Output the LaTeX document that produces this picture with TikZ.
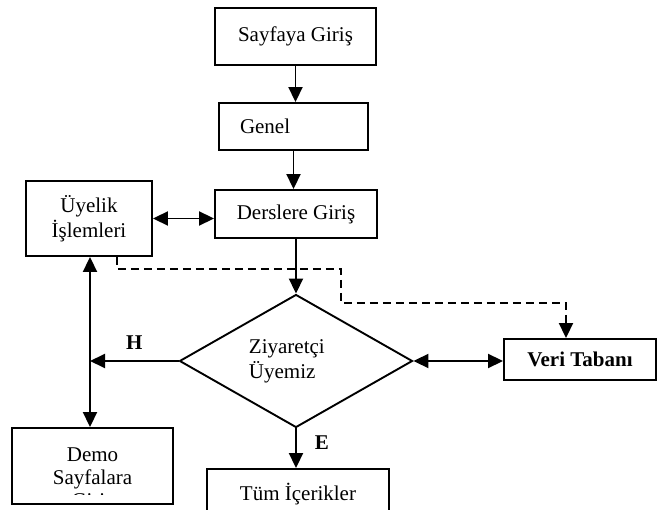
\documentclass[tikz,border=0pt]{standalone}
\usepackage{fontspec}
\setmainfont{Liberation Serif}
\usetikzlibrary{shapes.geometric,arrows.meta}

\begin{document}
\begin{tikzpicture}[x=1pt,y=-1pt,line join=miter,line width=1.9pt,>={Triangle[length=15pt,width=14pt]}]
				\tikzset{every node/.style={font=\fontsize{21}{25}\selectfont,inner sep=0pt},
					kutu/.style={draw,rectangle,align=center},
					karar/.style={draw,diamond,minimum width=233pt,minimum height=133pt},
					harf/.style={font=\fontsize{21}{25}\selectfont\bfseries}}
				\clip (0,0) rectangle (657,510);
				% kutular
				\node[kutu,minimum width=161pt,minimum height=57pt] (giris) at (295.5,36.5) {Sayfaya Giriş};
				\node[kutu,minimum width=149pt,minimum height=47pt,text width=107pt,inner xsep=21pt,align=left] (genel) at (293.5,126.5) {Genel};
				\node[kutu,minimum width=162pt,minimum height=48pt] (ders) at (296,214) {Derslere Giriş};
				\node[kutu,minimum width=126pt,minimum height=75pt] (uye) at (89,218.5) {Üyelik\\İşlemleri};
				\node[karar] (soru) at (296,361) {};
				\node[kutu,minimum width=152pt,minimum height=41pt,font=\fontsize{21}{25}\selectfont\bfseries] (veri) at (580,359.5) {Veri Tabanı};
				\node[kutu,minimum width=161pt,minimum height=76pt] (demo) at (92.5,466) {};
				\node[kutu,minimum width=182pt,minimum height=50pt] (tum) at (298,494) {Tüm İçerikler};
				% taşan yazılar
				\begin{scope}
					\clip (180,330) rectangle (413,389);
					\node[align=left,anchor=north west] (soruyazi) at (248,338.7) {Ziyaretçi\\Üyemiz\\mi?};
				\end{scope}
				\begin{scope}
					\clip (12,430) rectangle (173,495);
					\node[align=center,anchor=north,font=\fontsize{21}{23}\selectfont] (demoyazi) at (92.5,447) {Demo\\Sayfalara\\Giriş};
				\end{scope}
				% oklar
				\coordinate (hkose) at (90,361);
				\coordinate (d1) at (341,269);
				\coordinate (d2) at (566,303);
				\draw[->] (giris.south) -- (giris.south |- genel.north);
				\draw[->] (genel.south) -- (genel.south |- ders.north);
				\draw[<->] (uye.east) -- (uye.east -| ders.west);
				\draw[->] (ders.south) -- (soru.north);
				\draw[->] (soru.west) -- (hkose) node[harf,midway,above=11pt] (h) {H};
				\draw[<->] (uye.south -| hkose) -- (demo.north -| hkose);
				\draw[<->] (soru.east) -- (soru.east -| veri.west);
				\draw[->] (soru.south) -- (soru.south |- tum.north) node[harf,pos=0.35,right=18pt] (e) {E};
				\draw[dashed,dash pattern=on 8pt off 5pt,->] ([xshift=28pt]uye.south) |- (d1) |- (d2) -- (d2 |- veri.north);
			\end{tikzpicture}
\end{document}
